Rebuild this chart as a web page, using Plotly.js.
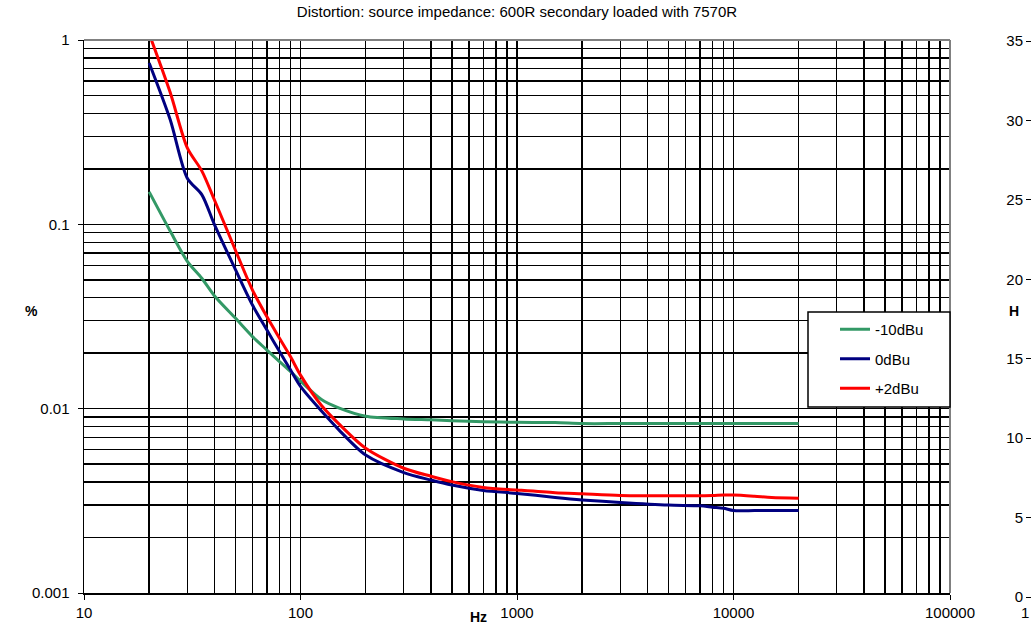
<!DOCTYPE html>
<html>
<head>
<meta charset="utf-8">
<script src="https://cdn.plot.ly/plotly-3.0.1.min.js"></script>
<style>
  html, body { margin: 0; padding: 0; background: #ffffff; }
  #chart { width: 1031px; height: 628px; }
</style>
</head>
<body>
<div id="chart"></div>
<script>
// Frequencies (Hz)
const freqHz = [20, 25, 30, 35, 40, 50, 60, 70, 80, 90, 100, 125, 150, 200, 300, 400, 500, 700, 1000, 1500, 2000, 3000, 5000, 7000, 8000, 9000, 10000, 12500, 15000, 20000];

// Distortion (%) per level
const minus10dBu = [0.15, 0.092, 0.063, 0.051, 0.041, 0.031, 0.0246, 0.0208, 0.018, 0.0159, 0.0141, 0.0112, 0.0101, 0.0091, 0.0088, 0.0087, 0.0086, 0.0085, 0.00843, 0.0084, 0.0083, 0.0083, 0.0083, 0.0083, 0.0083, 0.0083, 0.0083, 0.0083, 0.0083, 0.0083];
const zero_dBu   = [0.75, 0.37, 0.178, 0.145, 0.1, 0.057, 0.0365, 0.0267, 0.0204, 0.0162, 0.0132, 0.0097, 0.0077, 0.0056, 0.0045, 0.0041, 0.00385, 0.0036, 0.00347, 0.0033, 0.0032, 0.0031, 0.0030, 0.00297, 0.00292, 0.00288, 0.0028, 0.0028, 0.0028, 0.0028];
const plus2dBu   = [1.08, 0.52, 0.26, 0.195, 0.136, 0.0726, 0.044, 0.0315, 0.0241, 0.0191, 0.0152, 0.0104, 0.0083, 0.0061, 0.00475, 0.0043, 0.00402, 0.00374, 0.00362, 0.0035, 0.00345, 0.00338, 0.00337, 0.00337, 0.00338, 0.0034, 0.0034, 0.00335, 0.0033, 0.00327];

const seriesNames = ['-10dBu', '0dBu', '+2dBu'];
const seriesColors = ['#339966', '#000080', '#ff0000'];

// Tick labels
const xTickVals = [10, 100, 1000, 10000, 100000];
const xTickText = ['10', '100', '1000', '10000', '100000'];
const yTickVals = [0.001, 0.01, 0.1, 1];
const yTickText = ['0.001', '0.01', '0.1', '1'];

const titleText = 'Distortion: source impedance: 600R secondary loaded with 7570R';

const FONT = 'Liberation Sans, Arial, sans-serif';
const seriesData = [minus10dBu, zero_dBu, plus2dBu];

const traces = seriesData.map((vals, i) => ({
  type: 'scatter',
  mode: 'lines',
  x: freqHz,
  y: vals,
  name: seriesNames[i],
  legendgroup: 'g' + i,
  line: { color: seriesColors[i], width: 3, shape: 'spline', smoothing: 0.8 },
  xaxis: 'x', yaxis: 'y',
  cliponaxis: true
}));

// empty trace to host the secondary (cut-off) axis
traces.push({ type: 'scatter', mode: 'lines', x: [], y: [], xaxis: 'x2', yaxis: 'y2', showlegend: false, hoverinfo: 'skip' });

const gridStyle = { color: '#000000', width: 1.4 };

const layout = {
  width: 1031,
  height: 628,
  margin: { l: 84, r: 0, t: 37, b: 31, pad: 0 },
  paper_bgcolor: '#ffffff',
  plot_bgcolor: '#ffffff',
  font: { family: FONT, size: 15, color: '#000000' },
  showlegend: true,
  title: {
    text: titleText,
    font: { family: FONT, size: 15, color: '#000000' },
    x: 517 / 1031, xref: 'container', xanchor: 'center',
    y: 1, yref: 'container', yanchor: 'top', pad: { t: 6 }
  },
  xaxis: {
    type: 'log',
    domain: [0, 866 / 947],
    range: [1, 5],
    tickmode: 'array',
    tickvals: xTickVals,
    ticktext: xTickText,
    ticks: 'outside', ticklen: 5, tickcolor: '#000000', tickwidth: 1,
    showline: true, linecolor: '#000000', linewidth: 1.5,
    showgrid: true, gridcolor: gridStyle.color, gridwidth: gridStyle.width,
    minor: { dtick: 'D1', showgrid: true, gridcolor: gridStyle.color, gridwidth: gridStyle.width, ticks: '' },
    zeroline: false,
    tickfont: { family: FONT, size: 15, color: '#000000' },
    anchor: 'y'
  },
  yaxis: {
    type: 'log',
    domain: [4 / 560, 557 / 560],
    range: [-3, 0],
    tickmode: 'array',
    tickvals: yTickVals,
    ticktext: yTickText,
    ticks: 'outside', ticklen: 5, tickcolor: '#000000', tickwidth: 1,
    ticklabelstandoff: 5,
    showline: true, linecolor: '#000000', linewidth: 1.5,
    showgrid: true, gridcolor: gridStyle.color, gridwidth: gridStyle.width,
    minor: { dtick: 'D1', showgrid: true, gridcolor: gridStyle.color, gridwidth: gridStyle.width, ticks: '' },
    zeroline: false,
    tickfont: { family: FONT, size: 15, color: '#000000' },
    anchor: 'x'
  },
  xaxis2: {
    domain: [0.995, 1],
    anchor: 'y2',
    visible: false,
    range: [0, 1]
  },
  yaxis2: {
    domain: [0, 556 / 560],
    range: [0, 35],
    dtick: 5,
    anchor: 'free',
    position: 1,
    side: 'left',
    ticks: 'outside', ticklen: 5, tickcolor: '#000000', tickwidth: 1,
    showline: false, showgrid: false, zeroline: false,
    tickfont: { family: FONT, size: 15, color: '#000000' }
  },
  legend: {
    x: (835 - 84) / 947, xanchor: 'left',
    y: (597 - 313) / 560, yanchor: 'top',
    bgcolor: 'rgba(0,0,0,0)',
    borderwidth: 0,
    traceorder: 'grouped',
    tracegroupgap: 7,
    font: { family: FONT, size: 15, color: '#000000' },
    itemwidth: 30
  },
  shapes: [
    // gray top & right frame
    { type: 'line', xref: 'x domain', yref: 'y domain', x0: 0, x1: 1, y0: 1, y1: 1, line: { color: '#808080', width: 2 } },
    { type: 'line', xref: 'x domain', yref: 'y domain', x0: 1, x1: 1, y0: 0, y1: 1, line: { color: '#808080', width: 2 } },
    // legend box
    { type: 'rect', xref: 'x domain', yref: 'y domain',
      x0: (808 - 84) / 866, x1: 1, y0: (593 - 407) / 553, y1: (593 - 312) / 553,
      fillcolor: '#ffffff', line: { color: '#000000', width: 1.5 } }
  ],
  annotations: [
    { text: '<b>%</b>', xref: 'paper', yref: 'paper', x: (31 - 84) / 947, y: (597 - 311) / 560, xanchor: 'center', yanchor: 'middle', showarrow: false, font: { family: FONT, size: 14 } },
    { text: '<b>Hz</b>', xref: 'paper', yref: 'paper', x: (478 - 84) / 947, y: (597 - 617) / 560, xanchor: 'center', yanchor: 'middle', showarrow: false, font: { family: FONT, size: 14 } },
    { text: '<b>H</b>', xref: 'paper', yref: 'paper', x: (1014 - 84) / 947, y: (597 - 311) / 560, xanchor: 'center', yanchor: 'middle', showarrow: false, font: { family: FONT, size: 14 } },
    { text: '1', xref: 'paper', yref: 'paper', x: (1025 - 84) / 947, y: (597 - 612) / 560, xanchor: 'center', yanchor: 'middle', showarrow: false, font: { family: FONT, size: 15 } }
  ]
};

Plotly.newPlot('chart', traces, layout, { staticPlot: true, displayModeBar: false });
</script>
</body>
</html>
